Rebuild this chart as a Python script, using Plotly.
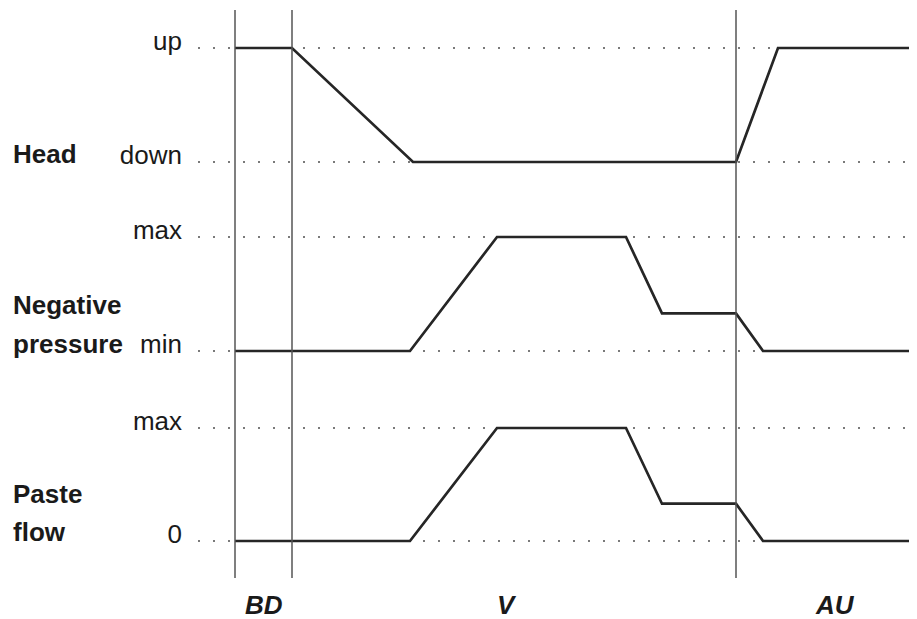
import plotly.graph_objects as go

# time axis (arbitrary units, 0 = first vertical marker)
phase_marks = [0, 57, 501]
phase_labels = ["BD", "V", "AU"]
phase_label_t = [29, 272, 600]

head_t = [0, 57, 178, 501, 543, 682]
head_level = [1, 1, 0, 0, 1, 1]

pressure_t = [0, 175, 262, 391, 427, 501, 528, 682]
pressure_level = [0, 0, 1, 1, 0.33, 0.33, 0, 0]

flow_t = [0, 175, 262, 391, 427, 501, 528, 682]
flow_level = [0, 0, 1, 1, 0.33, 0.33, 0, 0]

head_ticks = ["down", "up"]
pressure_ticks = ["min", "max"]
flow_ticks = ["0", "max"]

FONT = "Liberation Sans, Arial, sans-serif"
FS = 26
# page body has an 8px margin, so the figure is sized to end at the window edge
W, H = 909, 611
M = dict(l=190, r=0, t=2, b=41)
LINE = dict(color="#262626", width=2.7)

# rows in figure pixels: (top level px, bottom level px)
rows_px = [(40, 154), (229, 343), (420, 533)]
PAD = 0.2


def domain_for(top_px, bot_px):
    span = bot_px - top_px
    h = H - M["t"] - M["b"]
    top = top_px - span * PAD
    bot = bot_px + span * PAD
    return [(H - M["b"] - bot) / h, (H - M["b"] - top) / h]


fig = go.Figure()
series = [
    (head_t, head_level, "y"),
    (pressure_t, pressure_level, "y2"),
    (flow_t, flow_level, "y3"),
]
for t, lv, ax in series:
    fig.add_trace(go.Scatter(x=t, y=lv, yaxis=ax, mode="lines", line=LINE,
                             showlegend=False, hoverinfo="skip"))

for t in phase_marks:
    fig.add_shape(type="line", xref="x", yref="paper", x0=t, x1=t, y0=0, y1=1,
                  line=dict(color="#555555", width=1.5))


def yax(ticktext, dom):
    return dict(
        domain=dom, range=[-PAD, 1 + PAD], anchor="x",
        tickvals=[0, 1], ticktext=ticktext,
        showgrid=True, gridcolor="#7a7a7a", gridwidth=2.4, griddash="2px,13px",
        zeroline=False, showline=False, ticks="",
        ticklabelstandoff=15, ticklabelshift=-7,
        tickfont=dict(family=FONT, size=FS, color="#1a1a1a"),
        fixedrange=True,
    )


annotations = []
for lab, t in zip(phase_labels, phase_label_t):
    annotations.append(dict(
        text=f"<b><i>{lab}</i></b>", x=t, xref="x", y=0, yref="paper",
        yanchor="middle", yshift=-27, showarrow=False,
        font=dict(family=FONT, size=FS, color="#1a1a1a")))

group_labels = [
    ("Head", "y", 8),
    ("Negative", "y2", 46),
    ("pressure", "y2", 7),
    ("Paste", "y3", 47),
    ("flow", "y3", 9),
]
for txt, ax, sh in group_labels:
    annotations.append(dict(
        text=f"<b>{txt}</b>", x=0, xref="paper", xanchor="left", xshift=-187,
        y=0, yref=ax, yanchor="middle", yshift=sh, showarrow=False,
        font=dict(family=FONT, size=FS, color="#1a1a1a")))

fig.update_layout(
    width=W, height=H, margin=M,
    plot_bgcolor="white", paper_bgcolor="white",
    xaxis=dict(range=[-37, 682], showgrid=False, zeroline=False,
               showticklabels=False, showline=False, fixedrange=True),
    yaxis=yax(head_ticks, domain_for(*rows_px[0])),
    yaxis2=yax(pressure_ticks, domain_for(*rows_px[1])),
    yaxis3=yax(flow_ticks, domain_for(*rows_px[2])),
    annotations=annotations,
    showlegend=False,
)

fig.write_html("out.html")
